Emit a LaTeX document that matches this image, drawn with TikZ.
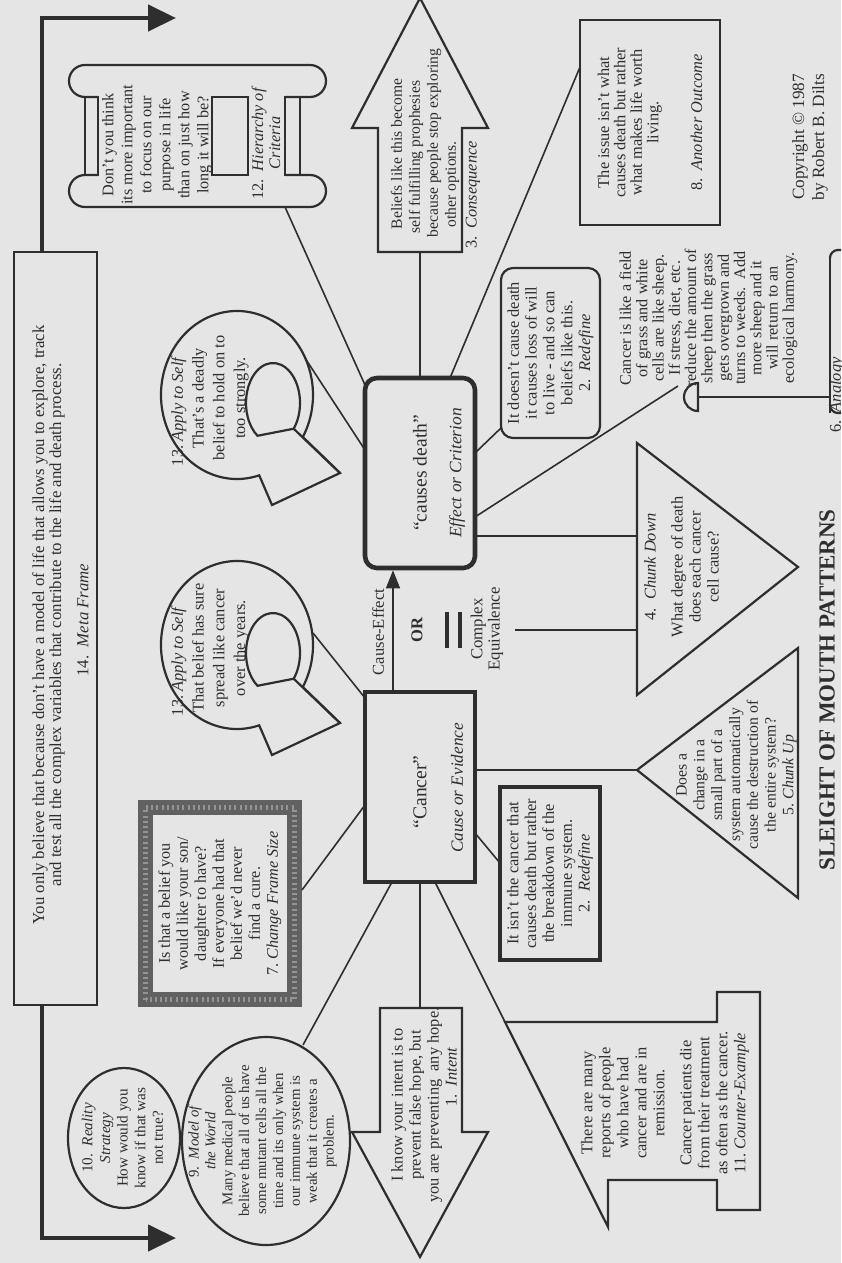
\documentclass[tikz,border=0pt]{standalone}
\usepackage{fontspec}
\setmainfont{Liberation Serif}
\usetikzlibrary{arrows.meta,positioning,calc,shapes.geometric}

\definecolor{ink}{gray}{0.18}
\newcommand{\fsz}[2]{\fontsize{#1}{#2}\selectfont}

\begin{document}
\begin{tikzpicture}[x=0.5pt, y=-0.5pt, color=ink,
    txt/.style={rotate=90, align=center, inner sep=0pt, font=\fsz{8.2}{8.9}},
    shp/.style={line width=1.1pt, line join=miter},
    box/.style={txt, draw, shp},
    heavy/.style={draw, line width=2.3pt, rotate=90, minimum width=95pt, minimum height=55pt, inner sep=0pt},
    conn/.style={line width=0.8pt},
    metaarr/.style={line width=2.2pt, -{Triangle[length=14pt, width=13pt]}},
    ceq/.style={line width=1.6pt}
]
\fill[black!10] (0,0) rectangle (841,1263);
\useasboundingbox (0,0) rectangle (841,1263);

% central cause and effect
\node[heavy, rounded corners=6pt] (death) at (420,473) {};
\node[heavy] (cancer) at (420,787) {};
\node[txt, font=\fsz{9.8}{11}] (deathtxt) at (420,473) {``causes death''};
\node[txt, font=\fsz{8.7}{10}\itshape] (deathsub) at (457,473) {Effect or Criterion};
\node[txt, font=\fsz{9.8}{11}] (cancertxt) at (420,792) {``Cancer''};
\node[txt, font=\fsz{8.6}{10}\itshape] (cancersub) at (457,788) {Cause or Evidence};

\draw[conn, -{Triangle[length=9pt, width=7pt]}] ($(cancer.east)+(-27,0)$) -- ($(death.west)+(-27,0)$);
\node[txt, font=\fsz{8.3}{9}] (cetxt) at (378,632) {Cause-Effect};
\node[txt, font=\fsz{8.3}{9}\bfseries] (ortxt) at (417,630) {OR};
\draw[ceq] (447,612) -- (447,648) (460,612) -- (460,648);
\node[txt, font=\fsz{8.4}{7.6}] (cplx) at (487,629) {Complex\\Equivalence};

% meta frame
\node[draw, shp, rotate=90, minimum width=376.5pt, minimum height=41.5pt] (meta) at (55.5,628.5) {};
\node[txt, font=\fsz{8.4}{8.5}] (metatxt) at (48.5,625) {You only believe that because don't have a model of life that allows you to explore, track\\and test all the complex variables that contribute to the life and death process.};
\node[txt, font=\fsz{8.4}{9}] (metalbl) at (83,620) {14.~~\textit{Meta Frame}};
\coordinate (mtop) at (42,252);
\coordinate (mbot) at (42,1005);
\coordinate (mtopend) at (176,18);
\coordinate (mbotend) at (176,1238);
\draw[metaarr] (mtop) |- (mtopend);
\draw[metaarr] (mbot) |- (mbotend);

% hierarchy of criteria
\draw[shp] (98,97) -- (85,97) arc[start angle=90, end angle=270, radius=16] -- (310,65) arc[start angle=-90, end angle=90, radius=16] -- (285,97);
\draw[shp] (98,175) -- (85,175) arc[start angle=270, end angle=90, radius=16] -- (310,207) arc[start angle=90, end angle=-90, radius=16] -- (285,175);
\draw[shp] (85,97) rectangle (98,175) (285,97) rectangle (300,175) (212,97) rectangle (248,175);
\node[txt, font=\fsz{8.1}{9.5}] (hiertxt) at (157,145) {Don't you think\\its more important\\to focus on our\\purpose in life\\than on just how\\long it will be?};
\node[txt, font=\fsz{8.1}{8.5}] (hierlbl) at (266,143) {12.~~\textit{Hierarchy of}\\\textit{Criteria}};

% apply to self
\foreach \dy in {0,250}{
  \begin{scope}[shift={(0,\dy)}]
    \draw[shp] (237,395) ++(73:76 and 84) arc[start angle=73, end angle=390, x radius=76, y radius=84] -- (340,473) -- (272,505) -- cycle;
    \draw[shp] (273,403) ++(40:27 and 40) arc[start angle=40, end angle=-235, x radius=27, y radius=40] -- cycle;
    \draw[shp] (273,403) ++(40:27 and 40) -- (340,473);
  \end{scope}
}
\node[txt, font=\fsz{8.2}{10.4}] (selfup) at (210,398) {13.~\textit{Apply to Self}\hspace*{13pt}\\That's a deadly\\belief to hold on to\\too strongly.};
\node[txt, font=\fsz{8.2}{10.4}] (selflow) at (210,648) {13.~\textit{Apply to Self}\hspace*{13pt}\\That belief has sure\\spread like cancer\\over the years.};

% consequence
\draw[shp] (420,-2) -- (488,128) -- (462,128) -- (462,252) -- (378,252) -- (378,128) -- (352,128) -- cycle;
\node[txt, align=left, font=\fsz{7.8}{9}] (conseqtxt) at (425,143) {\hspace*{4pt}Beliefs like this become\\\hspace*{2pt}self fulfilling prophesies\\because people stop exploring\\\hspace*{5pt}other options.};
\node[txt] (conseqlbl) at (473,195) {3.~~\textit{Consequence}};

% redefine, outcome, copyright
\node[box, rounded corners=6pt, minimum width=85pt, minimum height=49.5pt] (redef1) at (550.5,353) {It doesn't cause death\\it causes loss of will\\to live - and so can\\beliefs like this.\\2.~~\textit{Redefine}};
\node[box, font=\fsz{8.2}{8.2}, minimum width=102.5pt, minimum height=70pt] (outcome) at (650,122.5) {The issue isn't what\\causes death but rather\\what makes life worth\\living.\\[13.7pt]8.~~\textit{Another Outcome}};
\node[txt, font=\fsz{8.6}{10}] (copy) at (810,137) {Copyright \textcopyright\ 1987\\by Robert B. Dilts};

% analogy
\node[txt, font=\fsz{8.1}{8.15}] (analogy) at (708.5,318) {Cancer is like a field\\of grass and white\\cells are like sheep.\\If stress, diet, etc.\\reduce the amount of\\sheep then the grass\\gets overgrown and\\turns to weeds.~~Add\\more sheep and it\\will return to an\\ecological harmony.};
\node[txt] (analogylbl) at (837,395) {6.~~\textit{Analogy}};
\draw[shp] (698,397) -- (830,397);
\draw[shp] (698,383) arc[start angle=-90, end angle=-270, radius=14] -- cycle;
\draw[shp] (830,258) -- (830,413);
\draw[shp] (830,258) arc[start angle=180, end angle=270, radius=8] -- (841,250);
\draw[shp] (830,405) arc[start angle=180, end angle=90, radius=8] -- (841,413);

% chunking
\draw[shp] (637,443) -- (798,567) -- (637,695) -- cycle;
\node[txt, font=\fsz{8.2}{9}] (cdown) at (681.5,567) {4.~~\textit{Chunk Down}\\[4.5pt]What degree of death\\does each cancer\\cell cause?};
\draw[shp] (637,770) -- (798,648) -- (798,898) -- cycle;
\node[txt, font=\fsz{7.9}{8.9}] (cup) at (736.5,775) {Does a\\change in a\\small part of a\\system automatically\\cause the destruction of\\the entire system?\\5.~\textit{Chunk Up}};

% lower redefine
\node[box, line width=1.6pt, minimum width=86.5pt, minimum height=50pt] (redef2) at (550,873.5) {It isn't the cancer that\\causes death but rather\\the breakdown of the\\immune system.\\2.~~\textit{Redefine}};

% counter example
\draw[shp] (505,1022) -- (717,1022) -- (717,992) -- (760,992) -- (760,1210) -- (717,1210) -- (717,1180) -- (608,1180) -- (608,1227) -- cycle;
\node[txt, font=\fsz{8.2}{9}] (counter) at (665,1103) {There are many\\reports of people\\who have had\\cancer and are in\\remission.\\[4.5pt]Cancer patients die\\from their treatment\\as often as the cancer.\\11.~\textit{Counter-Example}};

% intent
\draw[shp] (380,1008) -- (462,1008) -- (462,1132) -- (488,1132) -- (420,1257) -- (352,1132) -- (380,1132) -- cycle;
\node[txt, font=\fsz{8.2}{9}] (intent) at (424,1105) {I know your intent is to\\prevent false hope, but\\you are preventing~ any hope.\\\hspace*{28pt}1.~~\textit{Intent}};

% model of the world, reality strategy
\node[draw, shp, ellipse, rotate=90, minimum width=104pt, minimum height=84pt, inner sep=0pt] (modelw) at (266,1141) {};
\node[txt, font=\fsz{7.4}{8.45}] (modeltxt) at (262.5,1141) {9.~~\textit{Model of}\\\textit{the World}\\Many medical people\\believe that all of us have\\some mutant cells all the\\time and its only when\\our immune system is\\weak that it creates a\\problem.};
\node[draw, shp, ellipse, rotate=90, minimum width=70pt, minimum height=56pt, inner sep=0pt] (reality) at (124,1138) {};
\node[txt, font=\fsz{7.6}{8.8}] (realitytxt) at (122.5,1138) {10.~~\textit{Reality}\\\textit{Strategy}\\How would you\\know if that was\\not true?};

% change frame size
\node[txt, draw=black!62, line width=7.5pt, outer sep=0pt, minimum width=96pt, minimum height=74.5pt, font=\fsz{8.1}{9}] (cframe) at (220,903.5) {Is that a belief you\\would like your son/\\daughter to have?\\If everyone had that\\belief we'd never\\find a cure.\\7.~\textit{Change Frame Size}};
\draw[black!42, line width=2.2pt, dash pattern=on 1pt off 1.6pt] (cframe.north west) rectangle (cframe.south east);

% title
\node[rotate=90, font=\fsz{11.5}{13}\bfseries] (title) at (827,690) {SLEIGHT OF MOUTH PATTERNS};

% ports
\coordinate (hierp) at (285,207);
\coordinate (selfupp) at (305,358);
\coordinate (selflowp) at (313,633);
\coordinate (conseqb) at (420,252);
\coordinate (outcomep) at (580,67);
\coordinate (redef1p) at (501,428);
\coordinate (analogyp) at (678,386);
\coordinate (cdownp) at (637,536);
\coordinate (cdownq) at (637,630);
\coordinate (cplxp) at (515,630);
\coordinate (cupp) at (637,770);
\coordinate (redef2p) at (500,863);
\coordinate (counterp) at (505,1022);
\coordinate (intentp) at (420,1008);
\coordinate (modelp) at (303,1045);
\coordinate (framep) at (302,890);

% connectors
\draw[conn] (death.east) -- (conseqb);
\draw[conn] ($(death)+(30,-95)$) -- (outcomep);
\draw[conn] ($(death)+(-55,-88)$) -- (hierp);
\draw[conn] ($(death)+(-55,-23)$) -- (selfupp);
\draw[conn] ($(death)+(55,-20)$) -- (redef1p);
\draw[conn] ($(death)+(55,44)$) -- (analogyp);
\draw[conn] ($(death)+(55,63)$) -- (cdownp);
\draw[conn] (cplxp) -- (cdownq);
\draw[conn] ($(cancer)+(-55,-89)$) -- (selflowp);
\draw[conn] ($(cancer)+(-55,18)$) -- (framep);
\draw[conn] ($(cancer)+(-28,95)$) -- (modelp);
\draw[conn] (cancer.west) -- (intentp);
\draw[conn] ($(cancer)+(15,95)$) -- (counterp);
\draw[conn] ($(cancer)+(55,46)$) -- (redef2p);
\draw[conn] ($(cancer)+(55,-17)$) -- (cupp);
\end{tikzpicture}
\end{document}
